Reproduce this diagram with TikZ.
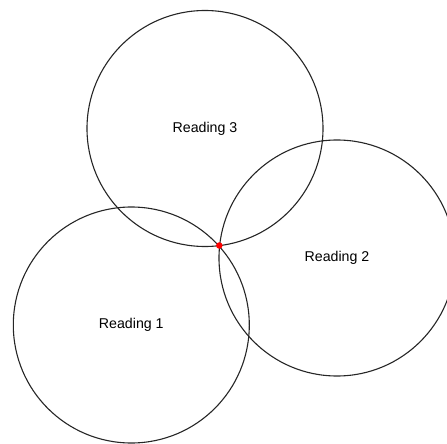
\documentclass[tikz,border=0pt]{standalone}
\usepackage{fontspec}
\setmainfont{Liberation Sans}
\begin{document}
\begin{tikzpicture}[x=1pt,y=-1pt,
  reading/.style={draw=black!85, line width=1.1pt, circle, minimum size=236pt, inner sep=0pt, font=\fontsize{14.2}{16}\selectfont},
  pointdot/.style={circle, fill=red, draw=none, minimum size=6.5pt, inner sep=0pt}]
\useasboundingbox (0,0) rectangle (447,444);
\clip (0,0) rectangle (447,444);
\node[reading] (r3) at (205,128.5) {Reading 3};
\node[reading] (r2) at (337,258) {Reading 2};
\node[reading] (r1) at (131.3,325) {Reading 1};
\node[pointdot] (p) at (219.3,245.5) {};
\end{tikzpicture}
\end{document}
